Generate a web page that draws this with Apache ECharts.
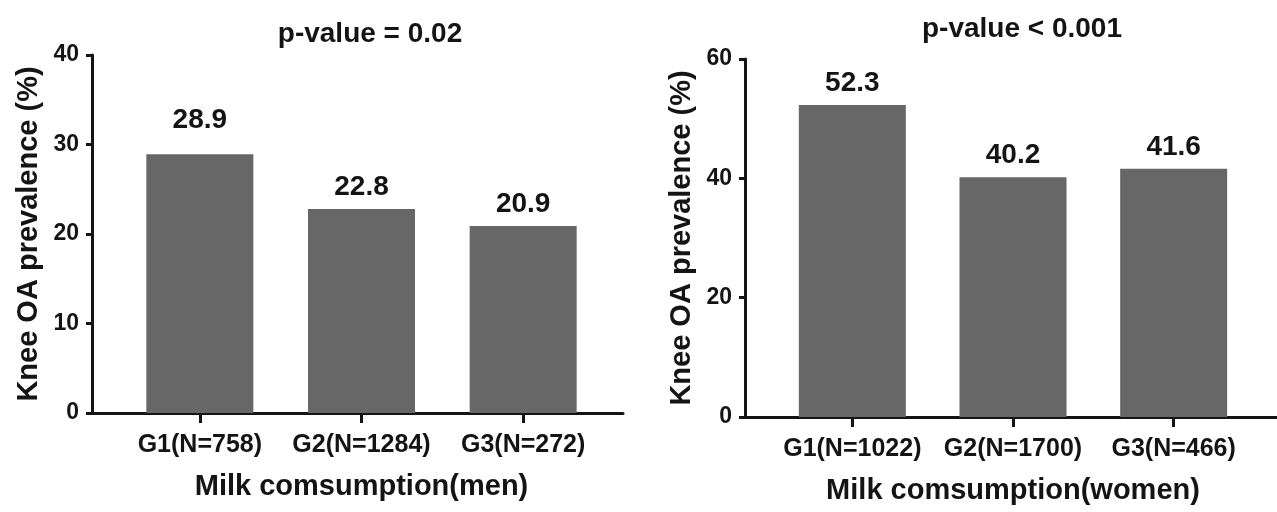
<!DOCTYPE html>
<html>
<head>
<meta charset="utf-8">
<script src="https://cdn.jsdelivr.net/npm/echarts@6/dist/echarts.min.js"></script>
<style>
  html, body { margin: 0; padding: 0; background: #fff; }
  #chart { width: 1277px; height: 512px; }
</style>
</head>
<body>
<div id="chart"></div>
<script>
// data
const menCats = ['G1(N=758)', 'G2(N=1284)', 'G3(N=272)']
const menVals = [28.9, 22.8, 20.9]
const womenCats = ['G1(N=1022)', 'G2(N=1700)', 'G3(N=466)']
const womenVals = [52.3, 40.2, 41.6]
const menTicks = [0, 10, 20, 30, 40]
const womenTicks = [0, 20, 40, 60]
const titles = ['p-value = 0.02', 'p-value < 0.001']
const xNames = ['Milk comsumption(men)', 'Milk comsumption(women)']
const yName = 'Knee OA prevalence (%)'

const FONT = '"Liberation Sans", Arial, sans-serif'
const INK = '#141414'
const BAR = '#676767'

function catAxis(gridIndex, cats, name) {
  return {
    type: 'category',
    gridIndex: gridIndex,
    data: cats,
    name: name,
    nameLocation: 'middle',
    nameGap: 59,
    nameTextStyle: { fontFamily: FONT, fontWeight: 'bold', fontSize: 29, color: INK },
    axisLine: { show: true, lineStyle: { color: INK, width: 3 } },
    axisTick: { show: true, alignWithLabel: true, length: 10, lineStyle: { color: INK, width: 3 } },
    axisLabel: { interval: 0, margin: 20, fontFamily: FONT, fontWeight: 'bold', fontSize: 25, color: INK },
    splitLine: { show: false }
  }
}

function valAxis(gridIndex, ticks, offset) {
  return {
    type: 'value',
    gridIndex: gridIndex,
    min: ticks[0],
    max: ticks[ticks.length - 1],
    interval: ticks[1] - ticks[0],
    offset: offset,
    name: yName,
    nameLocation: 'middle',
    nameGap: 49,
    nameTextStyle: { fontFamily: FONT, fontWeight: 'bold', fontSize: 29, color: INK },
    axisLine: { show: true, lineStyle: { color: INK, width: 3 } },
    axisTick: { show: true, length: 6, lineStyle: { color: INK, width: 3 } },
    axisLabel: { margin: 13, fontFamily: FONT, fontWeight: 'bold', fontSize: 23, color: INK },
    splitLine: { show: false }
  }
}

// plain line axes so the x-axis line runs from the y-axis to the panel end
function lineX(gridIndex) {
  return {
    type: 'value', gridIndex: gridIndex, min: 0, max: 1,
    axisLine: { show: true, onZero: false, lineStyle: { color: INK, width: 3 } },
    axisTick: { show: false }, axisLabel: { show: false }, splitLine: { show: false }
  }
}
function hiddenY(gridIndex) {
  return { type: 'value', gridIndex: gridIndex, min: 0, max: 1, show: false }
}

function barSeries(xi, yi, vals, firstDist) {
  return {
    type: 'bar',
    xAxisIndex: xi,
    yAxisIndex: yi,
    barWidth: 107,
    itemStyle: { color: BAR },
    label: {
      show: true,
      position: 'top',
      distance: 8,
      fontFamily: FONT,
      fontWeight: 'bold',
      fontSize: 28,
      color: INK,
      formatter: p => p.value.toFixed(1)
    },
    data: vals.map((v, i) => (i === 0 && firstDist ? { value: v, label: { distance: firstDist } } : v)),
    silent: true
  }
}

const option = {
  animation: false,
  title: [
    { text: titles[0], left: 365, top: 15, textAlign: 'center',
      textStyle: { fontFamily: FONT, fontWeight: 'bold', fontSize: 28, color: INK } },
    { text: titles[1], left: 1017, top: 10, textAlign: 'center',
      textStyle: { fontFamily: FONT, fontWeight: 'bold', fontSize: 28, color: INK } }
  ],
  grid: [
    { left: 119, width: 485, top: 55, height: 358 },
    { left: 772, width: 482, top: 59, height: 358 },
    { left: 92, width: 531, top: 55, height: 358 },
    { left: 745, right: 0, top: 59, height: 358 }
  ],
  xAxis: [
    catAxis(0, menCats, xNames[0]),
    catAxis(1, womenCats, xNames[1]),
    lineX(2),
    lineX(3)
  ],
  yAxis: [
    valAxis(0, menTicks, 27),
    valAxis(1, womenTicks, 27),
    hiddenY(2),
    hiddenY(3)
  ],
  series: [
    barSeries(0, 0, menVals, 20),
    barSeries(1, 1, womenVals, 0)
  ]
}

const myChart = echarts.init(document.getElementById('chart'))
myChart.setOption(option, true)
</script>
</body>
</html>
